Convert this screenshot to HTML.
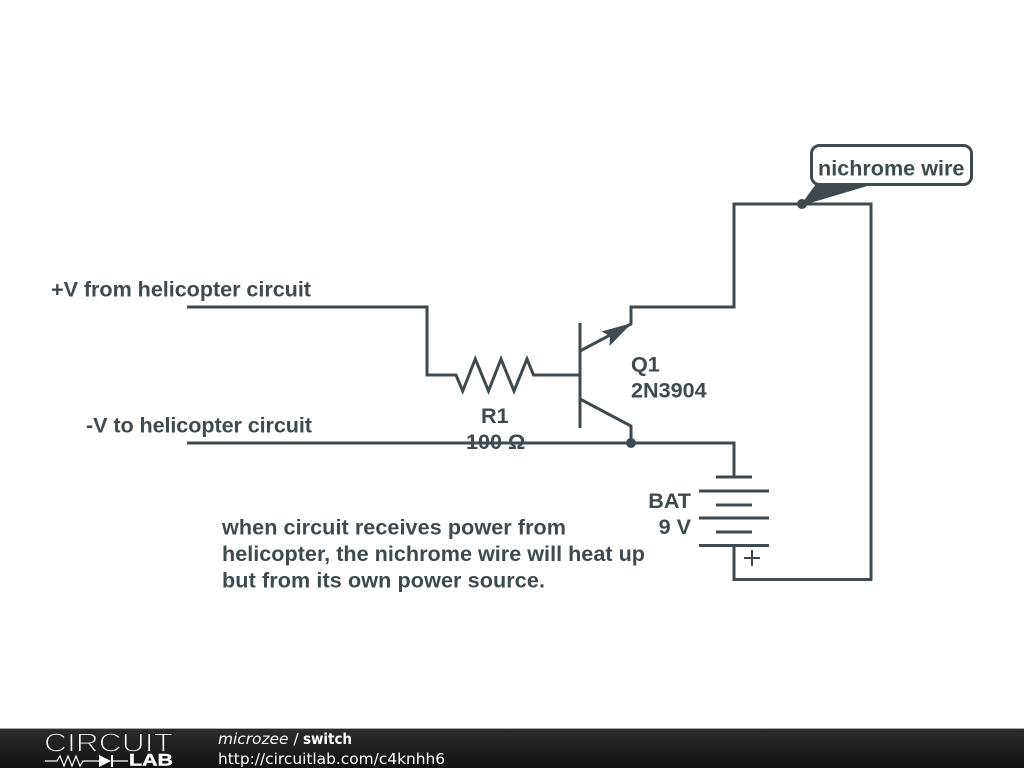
<!DOCTYPE html>
<html><head><meta charset="utf-8"><style>
html,body{margin:0;padding:0;background:#fff;width:1024px;height:768px;overflow:hidden}
svg{display:block}
.t{font-family:"Liberation Sans",sans-serif;font-weight:bold;font-size:21.6px;fill:#40494e}
.w{fill:none;stroke:#40494e;stroke-width:3;stroke-linejoin:miter}
.f{font-family:"DejaVu Sans",sans-serif;font-size:15.4px;fill:#fff}
</style></head><body>
<svg width="1024" height="768" viewBox="0 0 1024 768" xmlns="http://www.w3.org/2000/svg">
<defs><linearGradient id="g" x1="0" y1="0" x2="0" y2="1"><stop offset="0" stop-color="#2c2c2c"/><stop offset="1" stop-color="#111"/></linearGradient></defs>
<rect width="1024" height="768" fill="#fff"/>
<path class="w" d="M187 307H427V375H456L462.7 391L475.3 359L488.5 391L501 359L514 391L527 359L533.5 375H580"/>
<path class="w" d="M580 323V428"/>
<path class="w" d="M580 351L631 324V307H734V204H871V579.500H734V546"/>
<path class="w" d="M580 399L631 426V443"/>
<path class="w" d="M187 443H734V477"/>
<path d="M632 323L601.500 331.500L610 336L609.500 346Z" fill="#40494e"/>
<circle cx="631" cy="443" r="5" fill="#40494e"/>
<circle cx="802" cy="204" r="5" fill="#40494e"/>
<path class="w" d="M716 477H752M699 491H769M716 505H752M699 518H769M716 532H752M699 545.5H769"/>
<path d="M744 558H760M752 550V566" fill="none" stroke="#40494e" stroke-width="2"/>
<path d="M800 206L816 184H874Z" fill="#40494e"/>
<rect x="811.5" y="145.500" width="160" height="39" rx="8" ry="8" fill="#fff" stroke="#40494e" stroke-width="3"/>
<text class="t" x="818" y="175.500">nichrome wire</text>
<text class="t" x="51" y="296.500" textLength="260">+V from helicopter circuit</text>
<text class="t" x="86" y="432.500" textLength="226">-V to helicopter circuit</text>
<text class="t" x="481" y="423">R1</text>
<text class="t" x="466" y="449">100 Ω</text>
<text class="t" x="631" y="371.500">Q1</text>
<text class="t" x="631" y="397.500">2N3904</text>
<text class="t" x="691" y="508" text-anchor="end">BAT</text>
<text class="t" x="691" y="534" text-anchor="end">9 V</text>
<text class="t" x="222" y="534.500" textLength="344">when circuit receives power from</text>
<text class="t" x="222" y="561" textLength="423">helicopter, the nichrome wire will heat up</text>
<text class="t" x="222" y="587.500" textLength="323">but from its own power source.</text>
<rect x="0" y="728" width="1024" height="1" fill="#aaa"/>
<rect x="0" y="729" width="1024" height="39" fill="url(#g)"/>
<text x="44" y="751.500" font-family="Liberation Sans,sans-serif" font-size="26" fill="#fff" stroke="#222" stroke-width="1.1" textLength="129" lengthAdjust="spacingAndGlyphs">CIRCUIT</text>
<path d="M45 761H57L60 756L64 766L68 756L72 766L76 756L80 766L83 761H99" fill="none" stroke="#fff" stroke-width="1.2"/>
<path d="M99 755V767L111 761Z" fill="#fff"/>
<path d="M112 755V767" stroke="#fff" stroke-width="2"/>
<path d="M112 761H128" stroke="#fff" stroke-width="1.3"/>
<text x="129" y="765.500" font-family="Liberation Sans,sans-serif" font-weight="bold" font-size="17" fill="#fff" stroke="#fff" stroke-width="0.4" textLength="44" lengthAdjust="spacingAndGlyphs">LAB</text>
<text class="f" x="218" y="744"><tspan font-style="italic">microzee</tspan> /</text>
<text class="f" x="303" y="744" font-weight="bold" textLength="49" lengthAdjust="spacingAndGlyphs">switch</text>
<text class="f" x="218" y="764">http://circuitlab.com/c4knhh6</text>
</svg>
</body></html>
